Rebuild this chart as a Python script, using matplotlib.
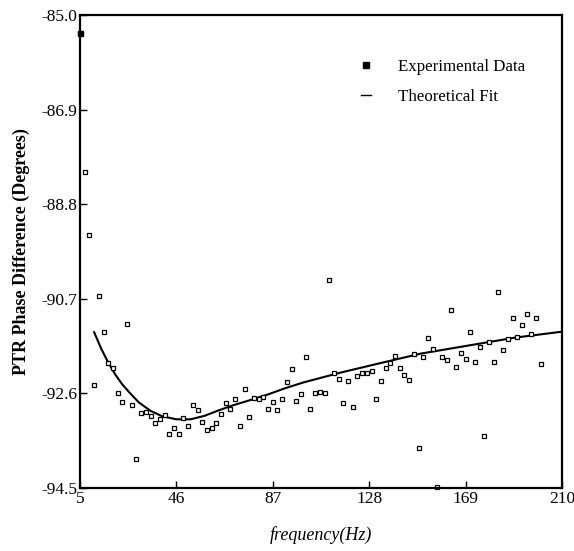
import matplotlib.pyplot as plt
from matplotlib.lines import Line2D

plt.rcParams['font.family'] = ['Liberation Serif', 'DejaVu Serif']

# experimental points, every 2 Hz from 5 to 201
freq = list(range(5, 202, 2))
phase = [-85.37, -88.15, -89.42, -92.44, -90.64, -91.37, -91.98, -92.08, -92.60, -92.78,
         -91.21, -92.84, -93.92, -92.99, -92.97, -93.05, -93.19, -93.12, -93.04, -93.41,
         -93.30, -93.41, -93.09, -93.25, -92.83, -92.94, -93.18, -93.33, -93.29, -93.20,
         -93.02, -92.79, -92.92, -92.71, -93.25, -92.51, -93.08, -92.69, -92.72, -92.67,
         -92.92, -92.78, -92.94, -92.72, -92.38, -92.10, -92.75, -92.62, -91.87, -92.91,
         -92.60, -92.57, -92.60, -90.33, -92.20, -92.32, -92.80, -92.35, -92.87, -92.26,
         -92.18, -92.18, -92.14, -92.71, -92.35, -92.08, -91.99, -91.84, -92.09, -92.24,
         -92.34, -91.80, -93.70, -91.87, -91.48, -91.71, -94.47, -91.87, -91.93, -90.93,
         -92.07, -91.79, -91.91, -91.37, -91.96, -91.67, -93.46, -91.57, -91.96, -90.56,
         -91.72, -91.51, -91.09, -91.46, -91.23, -91.01, -91.41, -91.09, -92.00]

# theoretical fit
fit_freq = [11, 14, 17, 20, 23, 26, 30, 35, 40, 46, 52, 58, 64, 70, 77, 85, 92, 100,
            108, 116, 124, 132, 141, 150, 160, 170, 180, 190, 200, 210]
fit_phase = [-91.37, -91.70, -91.98, -92.22, -92.42, -92.58, -92.78, -92.95, -93.06,
             -93.12, -93.12, -93.05, -92.94, -92.84, -92.74, -92.62, -92.50, -92.38,
             -92.28, -92.18, -92.09, -92.00, -91.90, -91.80, -91.72, -91.64, -91.56,
             -91.48, -91.42, -91.36]

xticks = [5, 46, 87, 128, 169, 210]
yticks = [-94.5, -92.6, -90.7, -88.8, -86.9, -85.0]

fig = plt.figure(figsize=(5.74, 5.51), dpi=100)
ax = fig.add_axes([0.1394, 0.1143, 0.8396, 0.8585])

ax.plot(fit_freq, fit_phase, color='black', lw=1.5)
ax.plot(freq, phase, 's', ms=3.4, mfc='white', mec='black', mew=0.9, clip_on=False)
# first point is drawn solid in the original
ax.plot(freq[:1], phase[:1], 's', ms=3.6, color='black', clip_on=False)

ax.set_xlim(5, 210)
ax.set_ylim(-94.5, -85.0)
ax.set_xticks(xticks)
ax.set_xticklabels([str(t) for t in xticks])
ax.set_yticks(yticks)
ax.set_yticklabels(['%.1f' % t for t in yticks])
ax.tick_params(direction='in', length=5, width=1, labelsize=12.5, pad=2)
for s in ax.spines.values():
    s.set_linewidth(1.6)

ax.set_xlabel('frequency(Hz)', fontsize=13, style='italic', labelpad=14)
ax.set_ylabel('PTR Phase Difference (Degrees)', fontsize=13, fontweight='bold', labelpad=8)

handles = [Line2D([], [], ls='none', marker='s', ms=4.5, mfc='black', mec='black'),
           Line2D([], [], color='black', lw=1)]
ax.legend(handles, ['Experimental Data', 'Theoretical Fit'], loc='upper left',
          bbox_to_anchor=(0.551, 0.939), frameon=False, fontsize=12.2,
          handlelength=0.6, handletextpad=1.6, labelspacing=0.8)

fig.savefig('out.png', dpi=100)
